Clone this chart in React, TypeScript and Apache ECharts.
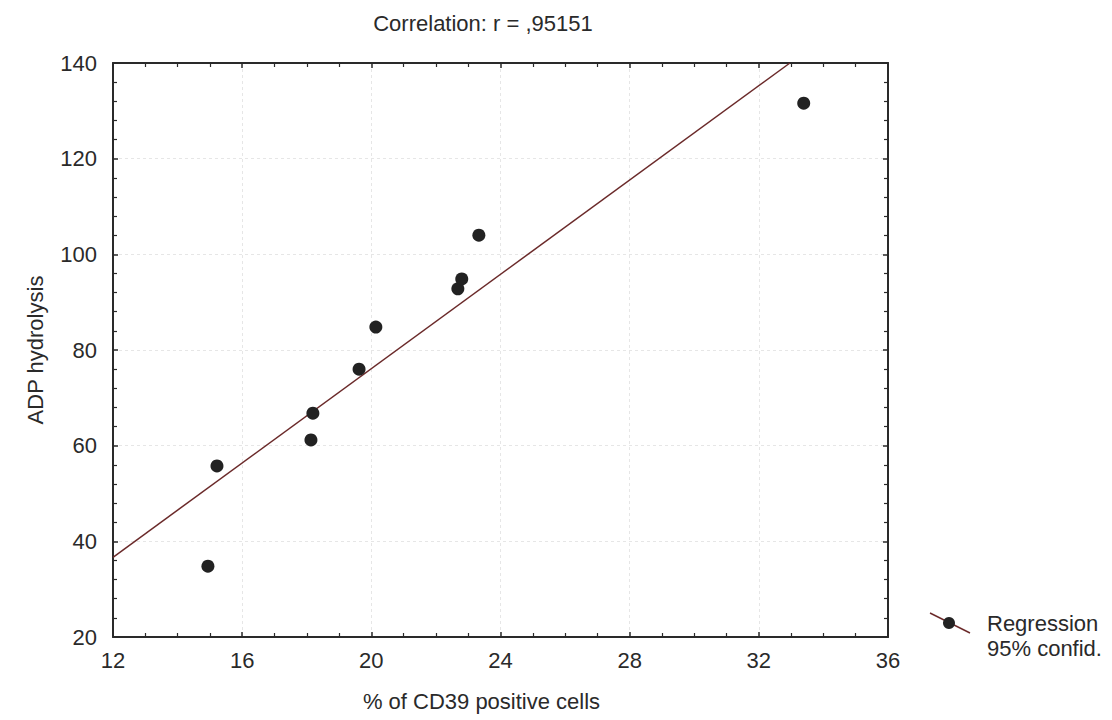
import React, { useEffect, useRef } from "react";
import * as echarts from "echarts";

const cd39Percent = [14.94, 15.22, 18.13, 18.19, 19.62, 20.14, 22.68, 22.8, 23.33, 33.39];
const adpHydrolysis = [34.8, 55.75, 61.2, 66.8, 76.0, 84.8, 92.8, 94.85, 104.0, 131.6];
const titleText = "Correlation: r = ,95151";
const xName = "% of CD39 positive cells";
const yName = "ADP hydrolysis";
const legendItems = ["Regression", "95% confid."];
const xRange = [12, 36];
const yRange = [20, 140];

function regression(xs: number[], ys: number[]) {
  const n = xs.length;
  const mx = xs.reduce((a, b) => a + b, 0) / n;
  const my = ys.reduce((a, b) => a + b, 0) / n;
  let sxy = 0, sxx = 0;
  for (let i = 0; i < n; i++) {
    sxy += (xs[i] - mx) * (ys[i] - my);
    sxx += (xs[i] - mx) * (xs[i] - mx);
  }
  const slope = sxy / sxx;
  return { slope, intercept: my - slope * mx };
}

export default function App() {
  const ref = useRef<HTMLDivElement>(null);
  useEffect(() => {
    if (!ref.current) return;
    const chart = echarts.init(ref.current, undefined, { renderer: "svg" });
    const { slope, intercept } = regression(cd39Percent, adpHydrolysis);
    const x0 = xRange[0];
    const y0 = slope * x0 + intercept;
    let x1 = xRange[1];
    let y1 = slope * x1 + intercept;
    if (y1 > yRange[1]) {
      y1 = yRange[1];
      x1 = (y1 - intercept) / slope;
    }
    const font = "Liberation Sans, Arial, sans-serif";
    const fs = 22;
    const txt = "#2a2a2a";
    const axisCommon = {
      axisLine: { show: true, onZero: false, lineStyle: { color: "#2a2a2a", width: 2 } },
      axisTick: { show: true, inside: true, length: 5, lineStyle: { color: "#2a2a2a", width: 1.5 } },
      minorTick: { show: true, length: 4, lineStyle: { color: "#2a2a2a", width: 1.2 } },
    };
    const gridLine = { show: true, lineStyle: { color: "#e6e6e6", type: [3, 3], width: 1 } };
    const points = cd39Percent.map((x, i) => [x, adpHydrolysis[i]]);
    chart.setOption({
      animation: false,
      backgroundColor: "#ffffff",
      textStyle: { fontFamily: font },
      title: {
        text: titleText,
        left: 478,
        top: 7,
        textAlign: "center",
        textStyle: { fontSize: fs, fontWeight: "normal", color: txt, fontFamily: font },
      },
      grid: { left: 113, top: 63, right: 224, bottom: 83, containLabel: false },
      xAxis: [
        {
          type: "value",
          min: xRange[0],
          max: xRange[1],
          interval: 4,
          ...axisCommon,
          minorTick: { ...axisCommon.minorTick, splitNumber: 4 },
          axisLabel: { color: txt, fontSize: fs, margin: 12, fontFamily: font },
          splitLine: gridLine,
          name: xName,
          nameLocation: "middle",
          nameGap: 53,
          nameTextStyle: { color: txt, fontSize: fs, fontFamily: font, padding: [0, 38, 0, 0] },
        },
        {
          type: "value",
          position: "top",
          min: xRange[0],
          max: xRange[1],
          interval: 4,
          ...axisCommon,
          minorTick: { ...axisCommon.minorTick, splitNumber: 4 },
          axisLabel: { show: false },
          splitLine: { show: false },
        },
      ],
      yAxis: [
        {
          type: "value",
          min: yRange[0],
          max: yRange[1],
          interval: 20,
          ...axisCommon,
          minorTick: { ...axisCommon.minorTick, splitNumber: 5 },
          axisLabel: { color: txt, fontSize: fs, margin: 16, fontFamily: font },
          splitLine: gridLine,
          name: yName,
          nameLocation: "middle",
          nameGap: 67,
          nameRotate: 90,
          nameTextStyle: { color: txt, fontSize: fs, fontFamily: font },
        },
        {
          type: "value",
          position: "right",
          min: yRange[0],
          max: yRange[1],
          interval: 20,
          ...axisCommon,
          minorTick: { ...axisCommon.minorTick, splitNumber: 5 },
          axisLabel: { show: false },
          splitLine: { show: false },
        },
      ],
      series: [
        {
          type: "line",
          data: [[x0, y0], [x1, y1]],
          showSymbol: false,
          symbol: "none",
          lineStyle: { color: "#6b2a2a", width: 1.5 },
          silent: true,
          z: 2,
        },
        {
          type: "scatter",
          data: points,
          symbol: "circle",
          symbolSize: 13,
          itemStyle: { color: "#222222", opacity: 1 },
          z: 3,
        },
      ],
      graphic: [
        {
          type: "line",
          shape: { x1: 930, y1: 613, x2: 970, y2: 633 },
          style: { stroke: "#6b2a2a", lineWidth: 1.5 },
        },
        {
          type: "circle",
          shape: { cx: 949, cy: 623, r: 6 },
          style: { fill: "#222222" },
        },
        {
          type: "text",
          x: 987,
          y: 623,
          style: { text: legendItems[0], fill: txt, fontSize: fs, fontFamily: font, textVerticalAlign: "middle" },
        },
        {
          type: "text",
          x: 987,
          y: 648,
          style: { text: legendItems[1], fill: txt, fontSize: fs, fontFamily: font, textVerticalAlign: "middle" },
        },
      ],
    });
    return () => chart.dispose();
  }, []);
  return <div ref={ref} style={{ width: 1112, height: 720, position: "absolute", left: 0, top: 0 }} />;
}
